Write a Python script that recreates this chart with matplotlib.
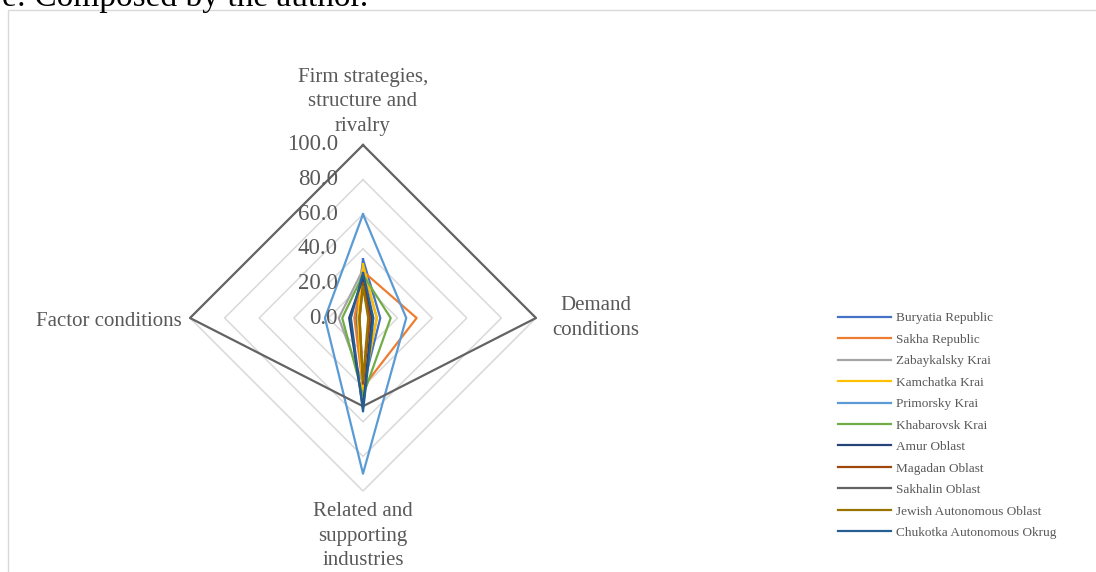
import numpy as np
import matplotlib
matplotlib.use('Agg')
import matplotlib.pyplot as plt
from matplotlib.patches import Rectangle

plt.rcParams['font.family'] = ['Liberation Serif', 'DejaVu Serif']

# Radar axes, clockwise from the top
axis_labels = ['Firm strategies,\nstructure and\nrivalry', 'Demand\nconditions',
               'Related and\nsupporting\nindustries', 'Factor conditions']

regions = ['Buryatia Republic', 'Sakha Republic', 'Zabaykalsky Krai', 'Kamchatka Krai',
           'Primorsky Krai', 'Khabarovsk Krai', 'Amur Oblast', 'Magadan Oblast',
           'Sakhalin Oblast', 'Jewish Autonomous Oblast', 'Chukotka Autonomous Okrug']

# values per region: firm strategies, demand, related industries, factor conditions
buryatia = [34, 10, 40, 4]
sakha = [27, 31, 40, 5]
zabaykalsky = [28, 8, 38, 14]
kamchatka = [31, 8, 42, 3]
primorsky = [60, 25, 90, 22]
khabarovsk = [25, 16, 45, 12]
amur = [23, 5, 52, 8]
magadan = [20, 4, 38, 2]
sakhalin = [100, 100, 51, 100]
jewish = [18, 3, 36, 2]
chukotka = [26, 6, 54, 7]

series = [buryatia, sakha, zabaykalsky, kamchatka, primorsky, khabarovsk,
          amur, magadan, sakhalin, jewish, chukotka]
colors = ['#4472C4', '#ED7D31', '#A5A5A5', '#FFC000', '#5B9BD5', '#70AD47',
          '#264478', '#9E480E', '#636363', '#997300', '#255E91']

grid_levels = [0, 20, 40, 60, 80, 100]
text_gray = '#595959'

# angles: top, right, bottom, left
angles = np.deg2rad(90 - 90 * np.arange(len(axis_labels)))


def to_xy(vals):
    v = np.append(vals, vals[0])
    a = np.append(angles, angles[0])
    return v * np.cos(a), v * np.sin(a)


fig = plt.figure(figsize=(10.96, 5.72), dpi=100)

# outer chart border (light gray, cut off at right/bottom)
fig.patches.append(Rectangle((8 / 1096, -0.1), 1.2, 1 - 10 / 572 + 0.1,
                             transform=fig.transFigure, fill=False,
                             edgecolor='#D9D9D9', lw=1.0))

fig.text(2 / 1096, 1 - 6 / 572, 'e: Composed by the author.', fontsize=24,
         color='black', va='baseline', ha='left')

ax = fig.add_axes([143 / 1096, 34 / 572, 440 / 1096, 440 / 572])
lim = 220 / 1.73
ax.set_xlim(-lim, lim)
ax.set_ylim(-lim, lim)
ax.set_aspect('equal')
ax.axis('off')

# polygon gridlines
for lv in grid_levels[1:]:
    gx, gy = to_xy([lv] * len(axis_labels))
    ax.plot(gx, gy, color='#D9D9D9', lw=1.1, zorder=1)

# tick labels along the top axis
for lv in grid_levels:
    ax.text(-14.5, lv, f'{lv:.1f}', ha='right', va='center', fontsize=16.5,
            color=text_gray, zorder=5)

# data series
for name, vals, c in zip(regions, series, colors):
    x, y = to_xy(vals)
    ax.plot(x, y, color=c, lw=1.6, label=name, zorder=3)

# axis labels
ls = 1.4
ax.text(0, 100 + 9 / 1.73, axis_labels[0], ha='center', va='bottom',
        fontsize=15, color=text_gray, multialignment='center', linespacing=ls)
ax.text(100 + 16 / 1.73, 0, axis_labels[1], ha='left', va='center',
        fontsize=15, color=text_gray, multialignment='center', linespacing=ls)
ax.text(0, -(100 + 11 / 1.73), axis_labels[2], ha='center', va='top',
        fontsize=15, color=text_gray, multialignment='center', linespacing=ls)
ax.text(-(100 + 8 / 1.73), -2, axis_labels[3], ha='right', va='center',
        fontsize=15, color=text_gray)

handles, labels = ax.get_legend_handles_labels()
leg = fig.legend(handles, labels, loc='center left',
                 bbox_to_anchor=(838 / 1096, 1 - 425.5 / 572),
                 frameon=False, fontsize=9.5, handlelength=4.0,
                 handletextpad=0.4, labelspacing=0.7, borderpad=0,
                 borderaxespad=0)
for t in leg.get_texts():
    t.set_color(text_gray)

fig.savefig('out.png', dpi=100)
